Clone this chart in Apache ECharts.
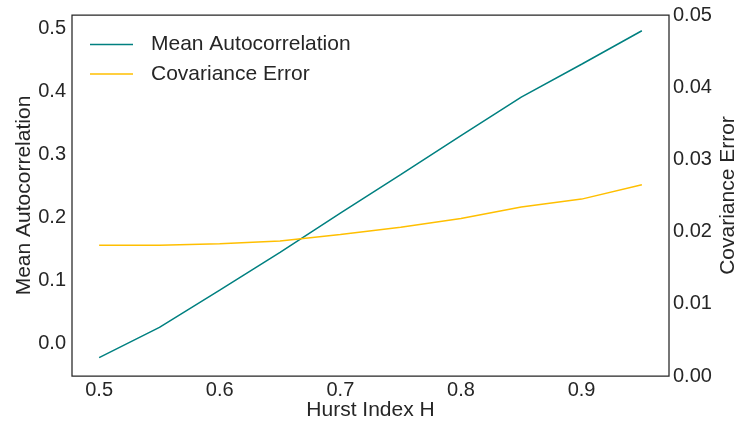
<!DOCTYPE html>
<html>
<head>
<meta charset="utf-8">
<script src="https://cdn.jsdelivr.net/npm/echarts@6/dist/echarts.min.js"></script>
<style>
  html, body { margin: 0; padding: 0; background: #ffffff; }
  #chart { width: 736px; height: 426px; }
</style>
</head>
<body>
<div id="chart"></div>
<script>
// Hurst index values sampled along the x axis
const hurst = [0.5, 0.55, 0.6, 0.65, 0.7, 0.75, 0.8, 0.85, 0.9, 0.95];
// Mean autocorrelation (left axis)
const meanAutocorr = [-0.022, 0.026, 0.085, 0.145, 0.207, 0.268, 0.330, 0.391, 0.443, 0.496];
// Covariance error (right axis)
const covError = [0.0181, 0.0181, 0.0183, 0.0187, 0.0196, 0.0206, 0.0218, 0.0234, 0.0245, 0.0265];

// Tick labels
const xTicks = [0.5, 0.6, 0.7, 0.8, 0.9];
const leftTicks = [0.0, 0.1, 0.2, 0.3, 0.4, 0.5];
const rightTicks = [0.00, 0.01, 0.02, 0.03, 0.04, 0.05];

const FONT = '"Liberation Sans", Arial, Helvetica, sans-serif';
const INK = '#262626';

const chart = echarts.init(document.getElementById('chart'), null, { renderer: 'canvas' });

chart.setOption({
  animation: false,
  backgroundColor: '#ffffff',
  textStyle: { fontFamily: FONT, color: INK },
  grid: {
    left: 72, right: 67, top: 15, bottom: 50,
    outerBoundsMode: 'none', containLabel: false,
    show: true, borderColor: INK, borderWidth: 1.25, backgroundColor: 'transparent'
  },
  legend: {
    left: 85, top: 29, orient: 'vertical',
    icon: 'rect', itemWidth: 43, itemHeight: 1.5, itemGap: 8.5,
    textStyle: { fontFamily: FONT, fontSize: 21, color: INK, lineHeight: 21, padding: [0, 0, 0, 13] },
    data: ['Mean Autocorrelation', 'Covariance Error']
  },
  xAxis: {
    type: 'value',
    min: 0.4775, max: 0.9725,
    name: 'Hurst Index H', nameLocation: 'middle', nameGap: 24, nameMoveOverlap: false,
    nameTextStyle: { fontFamily: FONT, fontSize: 21, color: INK },
    axisLine: { show: false },
    axisTick: { show: false },
    splitLine: { show: false },
    axisLabel: {
      customValues: xTicks, margin: 4,
      fontFamily: FONT, fontSize: 20, color: INK,
      formatter: v => v.toFixed(1)
    }
  },
  yAxis: [
    {
      type: 'value', position: 'left',
      min: -0.051, max: 0.521,
      name: 'Mean Autocorrelation', nameLocation: 'middle', nameGap: 37, nameRotate: 90,
      nameMoveOverlap: false,
      nameTextStyle: { fontFamily: FONT, fontSize: 21, color: INK },
      axisLine: { show: false }, axisTick: { show: false }, splitLine: { show: false },
      axisLabel: {
        customValues: leftTicks, margin: 6,
        fontFamily: FONT, fontSize: 20, color: INK,
        formatter: v => v.toFixed(1)
      }
    },
    {
      type: 'value', position: 'right',
      min: 0, max: 0.05,
      name: 'Covariance Error', nameLocation: 'middle', nameGap: 49, nameRotate: 90,
      nameMoveOverlap: false,
      nameTextStyle: { fontFamily: FONT, fontSize: 21, color: INK },
      axisLine: { show: false }, axisTick: { show: false }, splitLine: { show: false },
      axisLabel: {
        customValues: rightTicks, margin: 4,
        fontFamily: FONT, fontSize: 20, color: INK,
        formatter: v => v.toFixed(2)
      }
    }
  ],
  series: [
    {
      name: 'Mean Autocorrelation', type: 'line', yAxisIndex: 0,
      data: hurst.map((h, i) => [h, meanAutocorr[i]]),
      symbol: 'none', smooth: false,
      color: '#008080',
      lineStyle: { color: '#008080', width: 1.5 }
    },
    {
      name: 'Covariance Error', type: 'line', yAxisIndex: 1,
      data: hurst.map((h, i) => [h, covError[i]]),
      symbol: 'none', smooth: false,
      color: '#ffbf00',
      lineStyle: { color: '#ffbf00', width: 1.5 }
    }
  ]
});
</script>
</body>
</html>
